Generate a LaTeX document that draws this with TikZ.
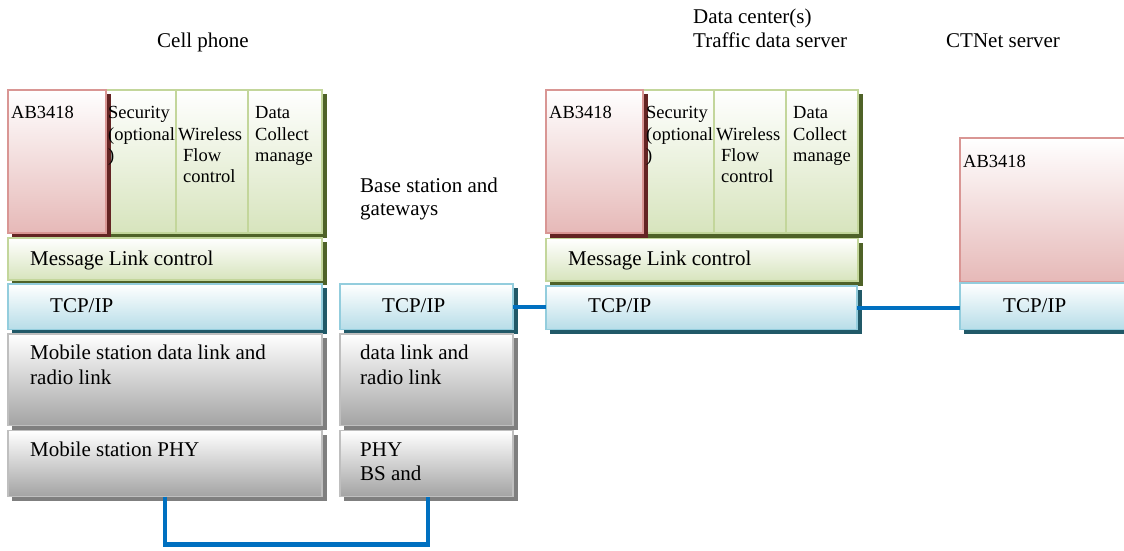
\documentclass[tikz,border=0pt]{standalone}
\usepackage{fontspec}
\setmainfont{Liberation Serif}
\usetikzlibrary{calc}
\definecolor{grnB}{HTML}{C3D69B}
\definecolor{grnF}{HTML}{D7E4BD}
\definecolor{grnS}{HTML}{4F6228}
\definecolor{pnkB}{HTML}{D99694}
\definecolor{pnkF}{HTML}{E6B9B8}
\definecolor{pnkS}{HTML}{632423}
\definecolor{bluB}{HTML}{93CDDD}
\definecolor{bluF}{HTML}{B7DDE8}
\definecolor{bluS}{HTML}{215968}
\definecolor{gryB}{HTML}{BFBFBF}
\definecolor{gryF}{HTML}{A3A3A3}
\definecolor{gryS}{HTML}{7F7F7F}
\definecolor{linkC}{HTML}{0070C0}
% #1 colour prefix, #2 name, #3 x, #4 y, #5 width, #6 height
\newcommand\stackbox[6]{%
  \fill[#1S] ({#3+4},{#4+4}) rectangle ++({#5+0.5},{#6+0.5});
  \node[box, draw=#1B, top color=white, bottom color=#1F,
        minimum width=#5pt, minimum height=#6pt] (#2) at (#3,#4) {};}
\begin{document}
\begin{tikzpicture}[x=1pt,y=-1pt,
  box/.style={anchor=north west, inner sep=0pt, outer sep=0pt, line width=1.3pt},
  divider/.style={draw=grnB, line width=2.5pt},
  main/.style={anchor=base west, inner sep=0pt, font=\fontsize{21}{25}\selectfont},
  small/.style={anchor=base west, inner sep=0pt, font=\fontsize{18.5}{21}\selectfont},
  link/.style={draw=linkC, line width=4.5pt}
]
\useasboundingbox (0,0) rectangle (1124,550);

% ---------- labels ----------
\node[main] (lcell) at (157,47) {Cell phone};
\node[main] (ldc1) at (693,23.5) {Data center(s)};
\node[main] (ldc2) at (693,47) {Traffic data server};
\node[main] (lct) at (946,47) {CTNet server};
\node[main] (lbs1) at (360,192) {Base station and};
\node[main] (lbs2) at (360,215.5) {gateways};

% ---------- cell phone stack ----------
\stackbox{grn}{ctop}{8}{90}{314}{143}
\draw[divider] (176,90) -- (176,233);
\draw[divider] (248,90) -- (248,233);
\stackbox{pnk}{cab}{8}{90}{98}{143}
\stackbox{grn}{cmsg}{8}{238}{314}{42}
\stackbox{blu}{ctcp}{8}{284}{314}{45.5}
\stackbox{gry}{cdl}{8}{334}{314}{91.5}
\stackbox{gry}{cphy}{8}{430.5}{314}{66}

\node[small] (tcab) at (11,118.5) {AB3418};
\node[small] (tcs1) at (108,118.5) {Security};
\node[small] (tcs2) at (108,140) {(optional};
\node[small] (tcs3) at (108,161) {)};
\node[small] (tcw1) at (178,140) {Wireless};
\node[small] (tcw2) at (183,161.5) {Flow};
\node[small] (tcw3) at (183,182.5) {control};
\node[small] (tcd1) at (255,118.5) {Data};
\node[small] (tcd2) at (255,140) {Collect};
\node[small] (tcd3) at (255,161) {manage};
\node[main] (tcmsg) at (30,265) {Message Link control};
\node[main] (tctcp) at (50,312.5) {TCP/IP};
\node[main] (tcdl1) at (30,359.5) {Mobile station data link and};
\node[main] (tcdl2) at (30,384.5) {radio link};
\node[main] (tcphy) at (30,456.5) {Mobile station PHY};

% ---------- base station stack ----------
\stackbox{blu}{btcp}{340}{284}{173}{45.5}
\stackbox{gry}{bdl}{340}{334}{173}{91.5}
\stackbox{gry}{bphy}{340}{430.5}{173}{66}

\node[main] (tbtcp) at (382,312.5) {TCP/IP};
\node[main] (tbdl1) at (360,359.5) {data link and};
\node[main] (tbdl2) at (360,384.5) {radio link};
\node[main] (tbphy1) at (360,456.5) {PHY};
\node[main] (tbphy2) at (360,480.5) {BS and};

% ---------- data center stack ----------
\stackbox{grn}{dtop}{546}{90}{312}{143}
\draw[divider] (714,90) -- (714,233);
\draw[divider] (786,90) -- (786,233);
\stackbox{pnk}{dab}{546}{90}{97}{143}
\stackbox{grn}{dmsg}{546}{238.5}{312}{42.5}
\stackbox{blu}{dtcp}{546}{286}{311}{43.5}

\node[small] (tdab) at (549,118.5) {AB3418};
\node[small] (tds1) at (646,118.5) {Security};
\node[small] (tds2) at (646,140) {(optional};
\node[small] (tds3) at (646,161) {)};
\node[small] (tdw1) at (716,140) {Wireless};
\node[small] (tdw2) at (721,161.5) {Flow};
\node[small] (tdw3) at (721,182.5) {control};
\node[small] (tdd1) at (793,118.5) {Data};
\node[small] (tdd2) at (793,140) {Collect};
\node[small] (tdd3) at (793,161) {manage};
\node[main] (tdmsg) at (568,265) {Message Link control};
\node[main] (tdtcp) at (588,312.5) {TCP/IP};

% ---------- CTNet stack ----------
\stackbox{pnk}{nab}{960}{138}{180}{144}
\stackbox{blu}{ntcp}{960}{283}{180}{46.5}
\node[small] (tnab) at (963,167) {AB3418};
\node[main] (tntcp) at (1003,312.5) {TCP/IP};

% ---------- connectors ----------
\draw[link] ($(cphy.south west)+(157,0)$) -- ++(0,48) -| ($(bphy.south west)+(88,0)$);
\draw[link] (btcp.east) -- (btcp.east -| dtcp.west);
\draw[link] (dtcp.east) -- (dtcp.east -| ntcp.west);
\end{tikzpicture}
\end{document}
